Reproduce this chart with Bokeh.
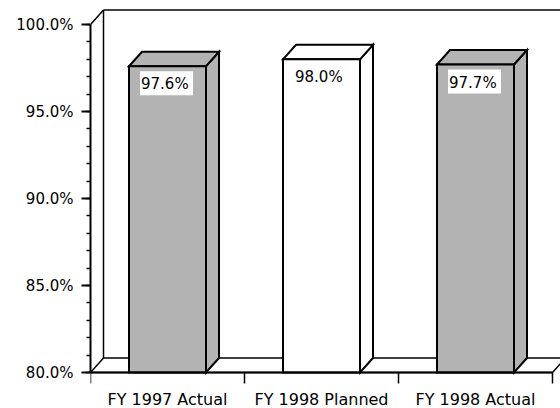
from bokeh.plotting import figure
from bokeh.models import Range1d, FixedTicker
from bokeh.core.properties import value
from bokeh.embed import file_html
from bokeh.resources import INLINE

# ---- data ----
categories = ["FY 1997 Actual", "FY 1998 Planned", "FY 1998 Actual"]
values = [97.6, 98.0, 97.7]
value_labels = ["97.6%", "98.0%", "97.7%"]
bar_colors = ["#b3b3b3", "#ffffff", "#b3b3b3"]
y_ticks = [80, 85, 90, 95, 100]
y_tick_labels = ["80.0%", "85.0%", "90.0%", "95.0%", "100.0%"]

# ---- geometry (pixel scale of the frame) ----
X_PX = 154.0    # px per category slot
Y_PX = 17.4     # px per percentage point
LEFT = 90
TOP = 7
W, H = 560, 408
BASE_PX = 372   # screen row of the 80% line
Y0 = 80.0
X_END = (W - LEFT) / X_PX
Y_START = Y0 - (H - BASE_PX) / Y_PX
Y_END = Y0 + (BASE_PX - TOP) / Y_PX
DX = 13.0 / X_PX
DY = 14.5 / Y_PX
HALF = 0.25
FONT = "DejaVu Sans"

p = figure(width=W, height=H, x_range=Range1d(0, X_END), y_range=Range1d(Y_START, Y_END),
           output_backend="svg", toolbar_location=None, x_axis_location=None,
           min_border_left=LEFT, min_border_right=0, min_border_top=TOP, min_border_bottom=0)
p.outline_line_color = None
p.xgrid.visible = False
p.ygrid.visible = False
p.background_fill_color = "white"
p.border_fill_color = "white"

n = len(categories)
centers = [i + 0.5 for i in range(n)]

# back wall
p.line([0, DX], [100, 100 + DY], line_color="black", line_width=1.5)
p.line([DX, DX], [Y0 + DY, 100 + DY], line_color="black", line_width=1.5)
p.line([DX, X_END + 1], [100 + DY, 100 + DY], line_color="black", line_width=1.5)

# floor
p.patch([0, DX, n + DX, n], [Y0, Y0 + DY, Y0 + DY, Y0], fill_color="white",
        line_color="black", line_width=1.5)

# bars
for c, v, col in zip(centers, values, bar_colors):
    x0, x1 = c - HALF, c + HALF
    p.patch([x1, x1, x1 + DX, x1 + DX], [Y0, v, v + DY, Y0 + DY], fill_color=col,
            line_color="black", line_width=2, line_join="miter")
    p.patch([x0, x0 + DX, x1 + DX, x1], [v, v + DY, v + DY, v], fill_color=col,
            line_color="black", line_width=2, line_join="miter")
    p.quad(left=x0, right=x1, bottom=Y0, top=v, fill_color=col,
           line_color="black", line_width=2, line_join="miter")

# value label boxes
lefts = [c - HALF + 11 / X_PX for c in centers]
rights = [c - HALF + 64 / X_PX for c in centers]
tops = [v - 5 / Y_PX for v in values]
bottoms = [v - 29 / Y_PX for v in values]
p.quad(left=lefts, right=rights, top=tops, bottom=bottoms, fill_color="white", line_color=None)
p.text(x=[c - HALF for c in centers], y=values, text=value_labels, x_offset=12, y_offset=9,
       text_font=value(FONT), text_font_size="15px", text_color="black",
       text_baseline="top", text_align="left")

# x axis (drawn in the frame)
p.line([0, n], [Y0, Y0], line_color="black", line_width=2)
tick_x = list(range(n + 1))
p.segment(x0=tick_x, y0=[Y0] * len(tick_x), x1=tick_x, y1=[Y0 - 11 / Y_PX] * len(tick_x),
          line_color="black", line_width=1.5)
p.text(x=centers, y=[Y0] * n, text=categories, y_offset=17,
       text_font=value(FONT), text_font_size="16px", text_color="black",
       text_baseline="top", text_align="center")

# y axis
ya = p.yaxis[0]
ya.ticker = FixedTicker(ticks=y_ticks, minor_ticks=list(range(80, 101)))
ya.major_label_overrides = {t: l for t, l in zip(y_ticks, y_tick_labels)}
ya.bounds = (80, 100)
ya.axis_line_width = 2
ya.major_tick_line_width = 2
ya.minor_tick_line_width = 1.5
ya.major_tick_out = 9
ya.major_tick_in = 0
ya.minor_tick_out = 4
ya.minor_tick_in = 0
ya.major_label_standoff = 8
ya.major_label_text_font = FONT
ya.major_label_text_font_size = "15px"
ya.major_label_text_color = "black"

open("out.html", "w").write(file_html(p, INLINE))
